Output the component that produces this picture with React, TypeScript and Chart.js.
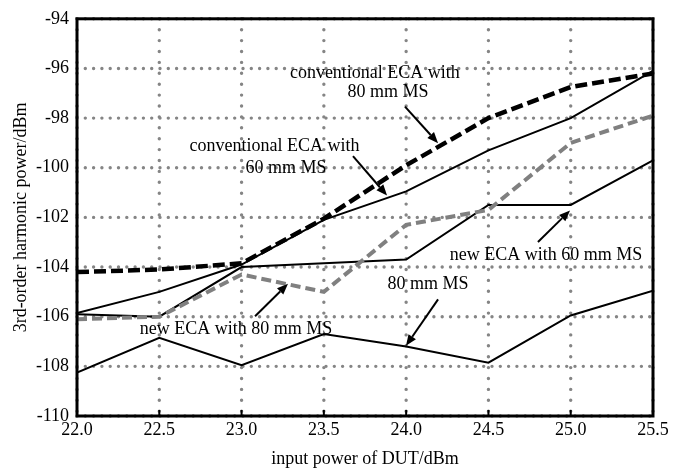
import React, { useEffect, useRef } from "react";
import Chart from "chart.js/auto";

const inputPower = [22.0, 22.5, 23.0, 23.5, 24.0, 24.5, 25.0, 25.5];
const conv80 = [-104.2, -104.1, -103.85, -102.05, -99.9, -98.0, -96.75, -96.2];
const conv60 = [-105.85, -105.0, -103.9, -102.1, -100.95, -99.3, -98.0, -96.1];
const new80 = [-106.1, -106.0, -104.3, -105.0, -102.3, -101.7, -99.0, -97.9];
const new60 = [-105.9, -106.0, -104.0, -103.85, -103.7, -101.5, -101.5, -99.7];
const lowest = [-108.25, -106.85, -107.95, -106.7, -107.2, -107.85, -105.95, -104.95];

const xTicks = [22.0, 22.5, 23.0, 23.5, 24.0, 24.5, 25.0, 25.5];
const yTicks = [-110, -108, -106, -104, -102, -100, -98, -96, -94];

const xTitle = "input power of DUT/dBm";
const yTitle = "3rd-order harmonic power/dBm";

// annotation texts (data coordinates)
const labelTexts = [
  { text: "conventional ECA with", x: 23.81, y: -96.19 },
  { text: "80 mm MS", x: 23.89, y: -96.95 },
  { text: "conventional ECA with", x: 23.2, y: -99.13 },
  { text: "60 mm MS", x: 23.27, y: -100.01 },
  { text: "new ECA with 80 mm MS", x: 22.966, y: -106.5 },
  { text: "new ECA with 60 mm MS", x: 24.85, y: -103.51 },
  { text: "80 mm MS", x: 24.133, y: -104.71 },
];

const arrows = [
  { x1: 23.993, y1: -97.54, x2: 24.194, y2: -99.01 },
  { x1: 23.677, y1: -99.53, x2: 23.884, y2: -101.12 },
  { x1: 23.082, y1: -105.98, x2: 23.282, y2: -104.67 },
  { x1: 24.801, y1: -102.99, x2: 24.996, y2: -101.72 },
  { x1: 24.194, y1: -105.3, x2: 23.999, y2: -107.17 },
];

const FONT = "'Liberation Serif', 'Times New Roman', serif";

const toXY = (ys: number[]) => ys.map((y, i) => ({ x: inputPower[i], y }));

const decorPlugin = {
  id: "decor",
  beforeDatasetsDraw(chart: any) {
    const { ctx, chartArea } = chart;
    const xs = chart.scales.x;
    const ys = chart.scales.y;
    ctx.save();
    ctx.strokeStyle = "#858585";
    ctx.lineWidth = 3.4;
    ctx.lineCap = "round";
    // horizontal grid
    ctx.setLineDash([0, 8.3]);
    for (const v of yTicks) {
      const py = ys.getPixelForValue(v);
      ctx.beginPath();
      ctx.moveTo(chartArea.left, py);
      ctx.lineTo(chartArea.right, py);
      ctx.stroke();
    }
    // vertical grid
    ctx.setLineDash([0, 10.9]);
    for (const v of xTicks) {
      const px = xs.getPixelForValue(v);
      ctx.beginPath();
      ctx.moveTo(px, chartArea.top);
      ctx.lineTo(px, chartArea.bottom);
      ctx.stroke();
    }
    ctx.restore();
  },
  afterDatasetsDraw(chart: any) {
    const { ctx, chartArea } = chart;
    const xs = chart.scales.x;
    const ys = chart.scales.y;
    ctx.save();
    // frame
    ctx.setLineDash([]);
    ctx.strokeStyle = "#000";
    ctx.lineWidth = 3;
    ctx.strokeRect(chartArea.left, chartArea.top, chartArea.right - chartArea.left, chartArea.bottom - chartArea.top);
    // inward ticks on bottom axis
    ctx.lineWidth = 2;
    for (const v of xTicks) {
      const px = xs.getPixelForValue(v);
      ctx.beginPath();
      ctx.moveTo(px, chartArea.bottom);
      ctx.lineTo(px, chartArea.bottom - 6);
      ctx.stroke();
    }
    // annotation texts
    ctx.fillStyle = "#000";
    ctx.font = `18px ${FONT}`;
    ctx.textAlign = "center";
    ctx.textBaseline = "middle";
    for (const l of labelTexts) {
      ctx.fillText(l.text, xs.getPixelForValue(l.x), ys.getPixelForValue(l.y));
    }
    // arrows
    for (const a of arrows) {
      const x1 = xs.getPixelForValue(a.x1);
      const y1 = ys.getPixelForValue(a.y1);
      const x2 = xs.getPixelForValue(a.x2);
      const y2 = ys.getPixelForValue(a.y2);
      const ang = Math.atan2(y2 - y1, x2 - x1);
      const hl = 11;
      const hw = 4.5;
      const bx = x2 - hl * Math.cos(ang);
      const by = y2 - hl * Math.sin(ang);
      ctx.lineWidth = 2;
      ctx.beginPath();
      ctx.moveTo(x1, y1);
      ctx.lineTo(bx, by);
      ctx.stroke();
      ctx.beginPath();
      ctx.moveTo(x2, y2);
      ctx.lineTo(bx + hw * Math.sin(ang), by - hw * Math.cos(ang));
      ctx.lineTo(bx - hw * Math.sin(ang), by + hw * Math.cos(ang));
      ctx.closePath();
      ctx.fill();
    }
    ctx.restore();
  },
};

export default function App() {
  const ref = useRef<HTMLCanvasElement | null>(null);
  useEffect(() => {
    document.body.style.margin = "0";
    const canvas = ref.current!;
    const chart = new Chart(canvas, {
      type: "line",
      data: {
        datasets: [
          {
            label: "new ECA with 80 mm MS",
            data: toXY(new80),
            borderColor: "#808080",
            borderWidth: 4,
            borderDash: [10, 5],
            pointRadius: 0,
            tension: 0,
          },
          {
            label: "conventional ECA with 60 mm MS",
            data: toXY(conv60),
            borderColor: "#000",
            borderWidth: 2,
            pointRadius: 0,
            tension: 0,
          },
          {
            label: "new ECA with 60 mm MS",
            data: toXY(new60),
            borderColor: "#000",
            borderWidth: 2,
            pointRadius: 0,
            tension: 0,
          },
          {
            label: "80 mm MS",
            data: toXY(lowest),
            borderColor: "#000",
            borderWidth: 2,
            pointRadius: 0,
            tension: 0,
          },
          {
            label: "conventional ECA with 80 mm MS",
            data: toXY(conv80),
            borderColor: "#000",
            borderWidth: 4.5,
            borderDash: [12, 5],
            pointRadius: 0,
            tension: 0,
          },
        ],
      },
      options: {
        responsive: false,
        animation: false,
        layout: { padding: { left: 0, right: 23, top: 14, bottom: 0 } },
        plugins: { legend: { display: false }, tooltip: { enabled: false } },
        scales: {
          x: {
            type: "linear",
            min: 22,
            max: 25.5,
            afterBuildTicks: (s: any) => {
              s.ticks = xTicks.map((v) => ({ value: v }));
            },
            afterFit: (s: any) => {
              s.height = 54;
            },
            grid: { display: false, drawTicks: false },
            border: { display: false },
            ticks: {
              padding: 3,
              color: "#000",
              font: { family: FONT, size: 18 },
              callback: (v: any) => Number(v).toFixed(1),
            },
            title: {
              display: true,
              text: xTitle,
              color: "#000",
              font: { family: FONT, size: 18 },
              padding: { top: 0, bottom: 0 },
            },
          },
          y: {
            type: "linear",
            min: -110,
            max: -94,
            afterBuildTicks: (s: any) => {
              s.ticks = yTicks.map((v) => ({ value: v }));
            },
            afterFit: (s: any) => {
              s.width = 77;
            },
            grid: { display: false, drawTicks: false },
            border: { display: false },
            ticks: {
              padding: 8,
              color: "#000",
              font: { family: FONT, size: 18 },
              callback: (v: any) => String(v),
            },
            title: {
              display: true,
              text: yTitle,
              color: "#000",
              font: { family: FONT, size: 18 },
              padding: { top: 10, bottom: 0 },
            },
          },
        },
      },
      plugins: [decorPlugin],
    });
    return () => chart.destroy();
  }, []);
  return <canvas ref={ref} width={676} height={470} style={{ display: "block" }} />;
}
